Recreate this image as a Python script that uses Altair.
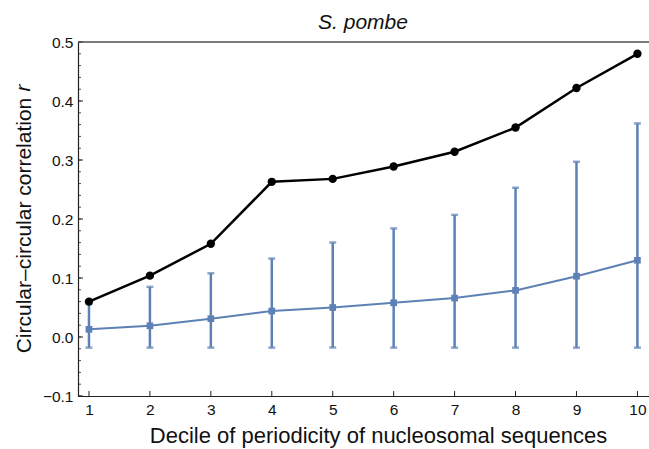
import altair as alt
import pandas as pd

deciles = [1, 2, 3, 4, 5, 6, 7, 8, 9, 10]
observed_r = [0.060, 0.104, 0.158, 0.263, 0.268, 0.289, 0.314, 0.355, 0.422, 0.480]
shuffled_r = [0.013, 0.019, 0.031, 0.044, 0.050, 0.058, 0.066, 0.079, 0.103, 0.130]
shuffled_lo = [-0.018, -0.018, -0.018, -0.018, -0.018, -0.018, -0.018, -0.018, -0.018, -0.018]
shuffled_hi = [0.056, 0.085, 0.108, 0.133, 0.160, 0.184, 0.207, 0.253, 0.297, 0.362]

y_major = [-0.1, 0.0, 0.1, 0.2, 0.3, 0.4, 0.5]
y_minor = [round(-0.1 + 0.02 * i, 2) for i in range(31)]
x_major = deciles
title_text = ["S. pombe"]

BLUE = "#5E81B5"
FONT = "Liberation Sans"
W, H = 571, 354

df = pd.DataFrame({"d": deciles, "obs": observed_r, "shuf": shuffled_r,
                   "lo": shuffled_lo, "hi": shuffled_hi})

xs = alt.Scale(domain=[0.82, 10.19], nice=False, zero=False)
ys = alt.Scale(domain=[-0.1, 0.5], nice=False, zero=False)

xax = alt.Axis(values=x_major, format="d", tickSize=0, grid=False, domainColor="#222",
               domainWidth=1.2, labelFont=FONT, labelFontSize=15.5, labelColor="#111",
               labelPadding=6, title="Decile of periodicity of nucleosomal sequences",
               titleFont=FONT, titleFontSize=22, titleFontWeight="normal", titleColor="#111",
               titleBaseline="alphabetic", titleY=46, titleX=300)
yax = alt.Axis(values=y_major, format=".1f", tickSize=0, grid=False, domainColor="#222",
               domainWidth=1.2, labelFont=FONT, labelFontSize=15.5, labelColor="#111",
               labelPadding=5, title="Circular\u2013circular correlation",
               titleFont=FONT, titleFontSize=21, titleFontWeight="normal", titleColor="#111",
               titleAngle=270, titleBaseline="alphabetic", titleX=-48, titleY=183,
               titleAlign="center")

base = alt.Chart(df)

bars = base.mark_rule(color=BLUE, strokeWidth=2.5).encode(
    x=alt.X("d:Q", scale=xs, axis=xax), y=alt.Y("lo:Q", scale=ys, axis=yax), y2="hi:Q")
cap_hi = base.mark_tick(color=BLUE, orient="horizontal", size=7, thickness=2.5).encode(
    x=alt.X("d:Q", scale=xs), y=alt.Y("hi:Q", scale=ys))
cap_lo = base.mark_tick(color=BLUE, orient="horizontal", size=7, thickness=2.5).encode(
    x=alt.X("d:Q", scale=xs), y=alt.Y("lo:Q", scale=ys))
blue_line = base.mark_line(color=BLUE, strokeWidth=2).encode(
    x=alt.X("d:Q", scale=xs), y=alt.Y("shuf:Q", scale=ys))
blue_pts = base.mark_point(shape="square", filled=True, color=BLUE, size=45, opacity=1).encode(
    x=alt.X("d:Q", scale=xs), y=alt.Y("shuf:Q", scale=ys))
black_line = base.mark_line(color="black", strokeWidth=2.5).encode(
    x=alt.X("d:Q", scale=xs), y=alt.Y("obs:Q", scale=ys))
black_pts = base.mark_circle(color="black", size=70, opacity=1).encode(
    x=alt.X("d:Q", scale=xs), y=alt.Y("obs:Q", scale=ys))

ymaj = alt.Chart(pd.DataFrame({"v": y_major})).mark_rule(color="#222", strokeWidth=1).encode(
    y=alt.Y("v:Q", scale=ys), x=alt.value(0), x2=alt.value(5))
ymin = alt.Chart(pd.DataFrame({"v": y_minor})).mark_rule(color="#222", strokeWidth=0.8).encode(
    y=alt.Y("v:Q", scale=ys), x=alt.value(0), x2=alt.value(3))
xmaj = alt.Chart(pd.DataFrame({"v": x_major})).mark_rule(color="#222", strokeWidth=1).encode(
    x=alt.X("v:Q", scale=xs), y=alt.value(H), y2=alt.value(H - 5))
top = alt.Chart(pd.DataFrame({"v": [0]})).mark_rule(color="#555", strokeWidth=1.3).encode(
    x=alt.value(0), x2=alt.value(W), y=alt.value(0))
r_label = alt.Chart(pd.DataFrame({"t": ["r"]})).mark_text(
    font=FONT, fontSize=21, fontStyle="italic", angle=270, align="center",
    baseline="alphabetic", color="#111").encode(
    text="t:N", x=alt.value(-48), y=alt.value(46))
title = alt.Chart(pd.DataFrame({"t": title_text})).mark_text(
    font=FONT, fontSize=21, fontStyle="italic", align="center",
    baseline="alphabetic", color="#111").encode(
    text="t:N", x=alt.value(285), y=alt.value(-13))

chart = alt.layer(bars, cap_hi, cap_lo, blue_line, blue_pts, black_line, black_pts,
                  ymaj, ymin, xmaj, top, r_label, title).properties(
    width=W, height=H,
    padding={"left": 78, "top": 42, "right": 0, "bottom": 53},
    autosize="none",
).configure_view(stroke=None).configure(background="white")

chart.save("out.html", embed_options={"renderer": "svg", "actions": False})
